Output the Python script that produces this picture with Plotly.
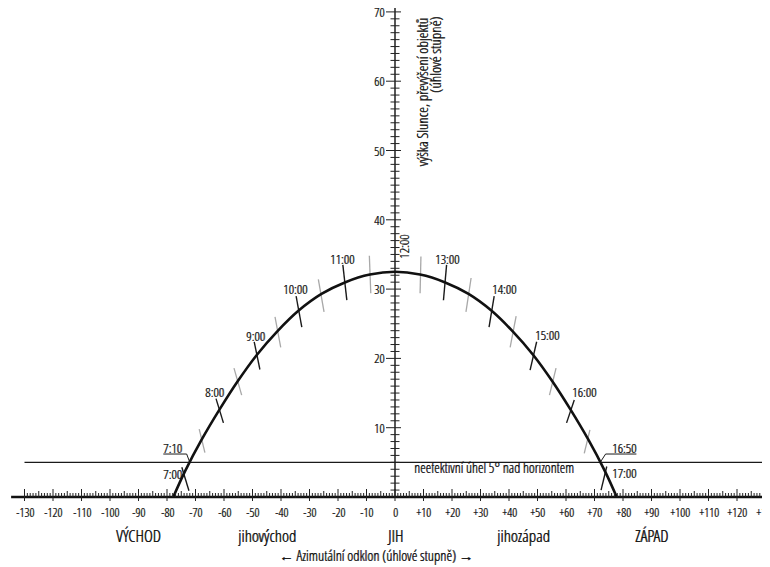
import plotly.graph_objects as go

# ---------------- data ----------------
path_az = [-77.8, -73.7, -67.8, -61.6, -55.2, -48.5, -41.3, -33.8, -25.8, -17.4, -8.8, 0.0,
           8.8, 17.4, 25.8, 33.8, 41.3, 48.5, 55.2, 61.6, 67.8, 73.7, 77.8]
path_alt = [0.0, 3.7, 8.3, 12.6, 16.7, 20.5, 23.9, 26.9, 29.3, 31.0, 32.1, 32.5,
            32.1, 31.0, 29.3, 26.9, 23.9, 20.5, 16.7, 12.6, 8.3, 3.7, 0.0]

hour_top_az = [-74.8, -62.8, -49.4, -34.7, -18.3, 18.1, 34.8, 49.7, 62.9, 74.3]
hour_top_alt = [4.3, 14.2, 22.4, 29.0, 33.5, 33.5, 29.0, 22.4, 14.0, 4.4]
hour_bot_az = [-72.3, -60.2, -47.4, -32.7, -16.9, 17.0, 33.0, 47.4, 60.2, 72.3]
hour_bot_alt = [0.9, 10.7, 18.4, 24.5, 28.4, 28.4, 24.5, 18.3, 10.7, 1.0]

half_top_az = [-68.7, -56.5, -42.1, -26.9, -9.0, 9.1, 26.7, 42.5, 56.5, 68.4]
half_top_alt = [9.8, 18.6, 26.0, 31.4, 34.8, 34.7, 31.6, 26.1, 18.6, 9.7]
half_bot_az = [-66.7, -53.8, -40.1, -24.9, -8.5, 8.8, 24.9, 40.4, 54.2, 66.4]
half_bot_alt = [6.4, 14.7, 21.6, 26.7, 29.4, 29.4, 26.7, 21.6, 14.7, 6.3]

hour_labels = ["7:00", "8:00", "9:00", "10:00", "11:00", "13:00", "14:00", "15:00", "16:00", "17:00"]
hour_label_az = [-78.2, -63.2, -49.1, -35.1, -18.7, 18.4, 38.4, 53.2, 66.4, 80.4]
hour_label_alt = [3.3, 15.2, 23.3, 30.0, 34.4, 34.4, 30.0, 23.4, 15.2, 3.5]

noon_label = "12:00"
noon_az = 3.2
noon_alt = 36.1

cross_labels = ["7:10", "16:50"]
cross_label_az = [-77.9, 80.2]
cross_label_alt = [7.1, 7.1]
leader_az = [[-81.3, -73.1, -72.0], [84.7, 73.9, 72.0]]
leader_alt = [[6.2, 6.2, 5.0], [6.2, 6.2, 5.0]]

limit_alt = 5
limit_text = "neefektivní úhel 5° nad horizontem"
limit_text_az = 6.0

x_ticks = list(range(-130, 131))
x_label_vals = list(range(-130, 131, 10))
x_label_text = [("+" if v > 0 else "") + str(v) for v in x_label_vals]
y_ticks = list(range(1, 71))
y_label_vals = [10, 20, 30, 40, 50, 60, 70]
y_label_text = [str(v) for v in y_label_vals]

direction_names = ["VÝCHOD", "jihovýchod", "JIH", "jihozápad", "ZÁPAD"]
direction_az = [-90, -45, 0, 45, 90]

x_title = "← Azimutální odklon (úhlové stupně) →"
x_title_az = -6.7
x_title_alt = -8.5
y_title_1 = "výška Slunce, převýšení objektů"
y_title_2 = "(úhlové stupně)"

# page geometry (browser body margin of 8 px)
OFF = 8
W, H = 770 - OFF, 567 - OFF
PX_X, PX_Y = 2.85, 6.93          # pixels per degree
X0_WIN, Y0_WIN = 395, 497        # window pixel of azimuth 0 / altitude 0
X_RANGE = [-(X0_WIN - OFF) / PX_X, (W + OFF - X0_WIN) / PX_X]
Y_RANGE = [-(H + OFF - Y0_WIN) / PX_Y, (Y0_WIN - OFF) / PX_Y]
X_AXIS_MIN = -134.7
Y_AXIS_TOP = 70.7


def px(xw):
    return (xw - OFF) / W


def py(yw):
    return 1 - (yw - OFF) / H


FONT = "Open Sans Condensed Light, Liberation Sans, Arial, sans-serif"
TXT = "#141414"
SHADOW = "0.55px 0px 0px #141414"


def fnt(size):
    return dict(size=size, color=TXT, family=FONT, shadow=SHADOW)


fig = go.Figure()


def segs(ax, ay, bx, by):
    xs, ys = [], []
    for a, b, c, d in zip(ax, ay, bx, by):
        xs += [a, c, None]
        ys += [b, d, None]
    return xs, ys


hx, hy = segs(half_top_az, half_top_alt, half_bot_az, half_bot_alt)
fig.add_trace(go.Scatter(x=hx, y=hy, mode="lines", line=dict(color="#a8a8a8", width=1.3),
                         hoverinfo="skip", showlegend=False))
hx, hy = segs(hour_top_az, hour_top_alt, hour_bot_az, hour_bot_alt)
fig.add_trace(go.Scatter(x=hx, y=hy, mode="lines", line=dict(color="#1a1a1a", width=1.4),
                         hoverinfo="skip", showlegend=False))
fig.add_trace(go.Scatter(x=[-130, X_RANGE[1]], y=[limit_alt, limit_alt], mode="lines",
                         line=dict(color="#1a1a1a", width=1.1), hoverinfo="skip", showlegend=False))
for la, lh in zip(leader_az, leader_alt):
    fig.add_trace(go.Scatter(x=la, y=lh, mode="lines", line=dict(color="#1a1a1a", width=1.0),
                             hoverinfo="skip", showlegend=False))
fig.add_trace(go.Scatter(x=path_az, y=path_alt, mode="lines",
                         line=dict(color="#111111", width=2.6, shape="spline", smoothing=1.0),
                         hoverinfo="skip", showlegend=False))
fig.add_trace(go.Scatter(x=[X_AXIS_MIN, X_RANGE[1]], y=[0, 0], mode="lines",
                         line=dict(color="#111111", width=2.6), hoverinfo="skip", showlegend=False))
fig.add_trace(go.Scatter(x=[0, 0], y=[0, Y_AXIS_TOP], mode="lines",
                         line=dict(color="#111111", width=1.4), hoverinfo="skip", showlegend=False))

shapes = []
for v in x_ticks:
    if v % 10 == 0:
        lo, hi = -4, 8
    elif v % 5 == 0:
        lo, hi = -1, 6
    else:
        lo, hi = 0, 4
    shapes.append(dict(type="line", xref="x", yref="y", x0=v, x1=v, ysizemode="pixel",
                       yanchor=0, y0=lo, y1=hi, line=dict(color="#222222", width=1)))
for v in y_ticks:
    if v % 10 == 0:
        lo, hi = -9, 6
    else:
        lo, hi = -4.5, 4.5
    shapes.append(dict(type="line", xref="x", yref="y", y0=v, y1=v, xsizemode="pixel",
                       xanchor=0, x0=lo, x1=hi, line=dict(color="#222222", width=1)))

ann = []
for v, t in zip(x_label_vals, x_label_text):
    ann.append(dict(x=v, y=0, xref="x", yref="y", text=t, showarrow=False, yshift=-15,
                    font=fnt(12.5)))
for v, t in zip(y_label_vals, y_label_text):
    ann.append(dict(x=0, y=v, xref="x", yref="y", text=t, showarrow=False, xanchor="right",
                    xshift=-9, font=fnt(13)))
for a, t in zip(direction_az, direction_names):
    ann.append(dict(x=a, y=0, xref="x", yref="y", text=t, showarrow=False, yshift=-38,
                    font=fnt(17)))
for a, h, t in zip(hour_label_az, hour_label_alt, hour_labels):
    ann.append(dict(x=a, y=h, xref="x", yref="y", text=t, showarrow=False, font=fnt(13.5)))
for a, h, t in zip(cross_label_az, cross_label_alt, cross_labels):
    ann.append(dict(x=a, y=h, xref="x", yref="y", text=t, showarrow=False, font=fnt(13.5)))
ann.append(dict(x=noon_az, y=noon_alt, xref="x", yref="y", text=noon_label, showarrow=False,
                textangle=-90, font=fnt(13.5)))
ann.append(dict(x=limit_text_az, y=limit_alt, xref="x", yref="y", text=limit_text, showarrow=False,
                xanchor="left", yshift=-5, font=fnt(14)))
ann.append(dict(x=x_title_az, y=x_title_alt, xref="x", yref="y", text=x_title,
                showarrow=False, font=fnt(14.5)))
ann.append(dict(x=px(421.5), y=py(16), xref="paper", yref="paper", text=y_title_1,
                showarrow=False, textangle=-90, yanchor="top", font=fnt(14.8)))
ann.append(dict(x=px(435), y=py(15), xref="paper", yref="paper", text=y_title_2,
                showarrow=False, textangle=-90, yanchor="top", font=fnt(15)))

fig.update_layout(
    width=W, height=H,
    margin=dict(l=0, r=0, t=0, b=0),
    paper_bgcolor="white", plot_bgcolor="white",
    xaxis=dict(range=X_RANGE, visible=False, fixedrange=True),
    yaxis=dict(range=Y_RANGE, visible=False, fixedrange=True),
    shapes=shapes, annotations=ann, showlegend=False,
)

fig.write_html("out.html")
